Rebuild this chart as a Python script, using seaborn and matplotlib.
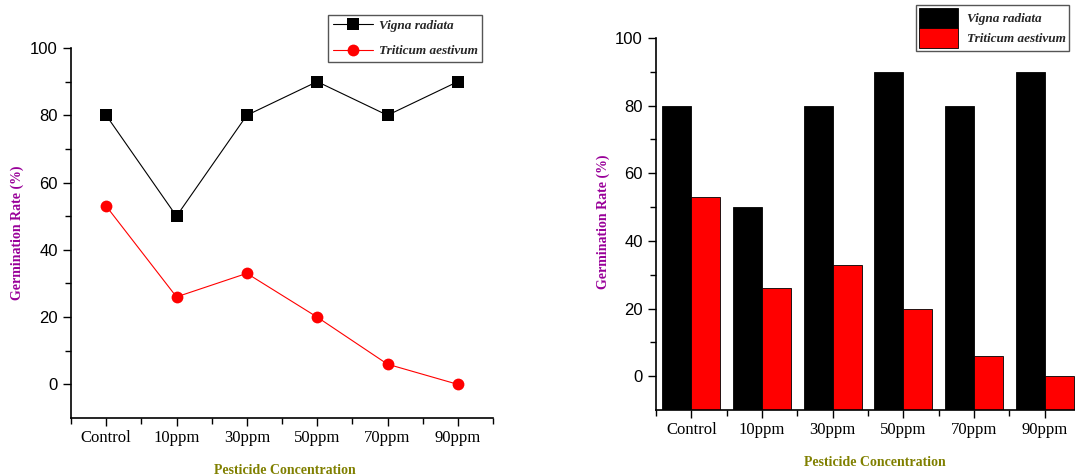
import numpy as np
import pandas as pd
import matplotlib
matplotlib.use("Agg")
import matplotlib.pyplot as plt
from matplotlib.ticker import FixedLocator
from matplotlib.patches import Patch
from matplotlib.lines import Line2D
import seaborn as sns

categories = ["Control", "10ppm", "30ppm", "50ppm", "70ppm", "90ppm"]
vigna = [80, 50, 80, 90, 80, 90]
triticum = [53, 26, 33, 20, 6, 0]
species = ["Vigna radiata", "Triticum aestivum"]
colors = {"Vigna radiata": "#000000", "Triticum aestivum": "#ff0000"}

df = pd.DataFrame({
    "conc": categories * 2,
    "rate": vigna + triticum,
    "species": [species[0]] * len(categories) + [species[1]] * len(categories),
})

sns.set_style("ticks")
plt.rcParams["font.family"] = ["Liberation Sans", "DejaVu Sans"]

fig = plt.figure(figsize=(10.75, 4.75), dpi=100)
ax1 = fig.add_axes([71 / 1075, 1 - 418 / 475, 422 / 1075, 370 / 475])
ax2 = fig.add_axes([656 / 1075, 1 - 410 / 475, 424 / 1075, 372 / 475])

# ---- left: line chart
sns.lineplot(data=df, x="conc", y="rate", hue="species", style="species",
             markers={species[0]: "s", species[1]: "o"}, dashes=False,
             palette=colors, sort=False, ax=ax1, linewidth=0.8,
             markersize=8.5, markeredgewidth=0, legend=False)

# ---- right: bar chart
sns.barplot(data=df, x="conc", y="rate", hue="species", palette=colors,
            order=categories, hue_order=species, width=0.82, ax=ax2,
            edgecolor="black", linewidth=0.6, legend=False, saturation=1)
for p in ax2.patches:
    h = p.get_height()
    p.set_y(-10)
    p.set_height(h + 10)

serif = ["Liberation Serif", "DejaVu Serif"]
for ax in (ax1, ax2):
    ax.set_xlim(-0.5, 5.5)
    ax.set_ylim(-10, 100)
    ax.set_xticks(range(len(categories)))
    ax.set_xticklabels(categories, family=serif, fontsize=12)
    ax.xaxis.set_minor_locator(FixedLocator(np.arange(-0.5, 6.0, 1.0)))
    ax.yaxis.set_major_locator(FixedLocator([0, 20, 40, 60, 80, 100]))
    ax.yaxis.set_minor_locator(FixedLocator([10, 30, 50, 70, 90]))
    ax.tick_params(axis="both", which="major", direction="out", length=6, width=1, colors="black")
    ax.tick_params(axis="both", which="minor", direction="out", length=4, width=1, colors="black")
    ax.tick_params(axis="y", labelsize=12)
    ax.tick_params(axis="x", pad=3)
    for s in ("top", "right"):
        ax.spines[s].set_visible(False)
    for s in ("left", "bottom"):
        ax.spines[s].set_linewidth(1.2)
        ax.spines[s].set_color("black")
    ax.set_xlabel("")
    ax.set_ylabel("")

fig.text(17 / 1075, 1 - 233 / 475, "Germination Rate (%)", rotation=90,
         ha="center", va="center", family=serif, fontweight="bold",
         fontsize=10, color="#990099")
fig.text(285 / 1075, 1 - 470 / 475, "Pesticide Concentration",
         ha="center", va="center", family=serif, fontweight="bold",
         fontsize=10, color="#808000")
fig.text(603 / 1075, 1 - 222 / 475, "Germination Rate (%)", rotation=90,
         ha="center", va="center", family=serif, fontweight="bold",
         fontsize=10, color="#990099")
fig.text(875 / 1075, 1 - 462 / 475, "Pesticide Concentration",
         ha="center", va="center", family=serif, fontweight="bold",
         fontsize=10, color="#808000")

# legends
lh = [Line2D([], [], color=colors[species[0]], marker="s", markersize=8.5, lw=0.8, mew=0),
      Line2D([], [], color=colors[species[1]], marker="o", markersize=8.5, lw=0.8, mew=0)]
leg1 = ax1.legend(lh, species, loc="upper right",
                  bbox_to_anchor=(482 / 1075, 1 - 15 / 475), bbox_transform=fig.transFigure,
                  borderaxespad=0, frameon=True, fancybox=False, edgecolor="#555555",
                  framealpha=1,
                  prop=dict(family=serif, style="italic", weight="bold", size=9.5),
                  handlelength=3.0, borderpad=0.35, labelspacing=1.0, handletextpad=0.45)
leg1.get_frame().set_linewidth(1.0)

bh = [Patch(facecolor=colors[s], edgecolor="black", lw=0.6) for s in species]
leg2 = ax2.legend(bh, species, loc="upper right",
                  bbox_to_anchor=(1069 / 1075, 1 - 5 / 475), bbox_transform=fig.transFigure,
                  borderaxespad=0, frameon=True, fancybox=False, edgecolor="#555555",
                  framealpha=1,
                  prop=dict(family=serif, style="italic", weight="bold", size=9.5),
                  handlelength=3.0, handleheight=2.0, borderpad=0.2, labelspacing=0.0,
                  handletextpad=0.7)
leg2.get_frame().set_linewidth(1.0)

fig.savefig("out.png", dpi=100)
